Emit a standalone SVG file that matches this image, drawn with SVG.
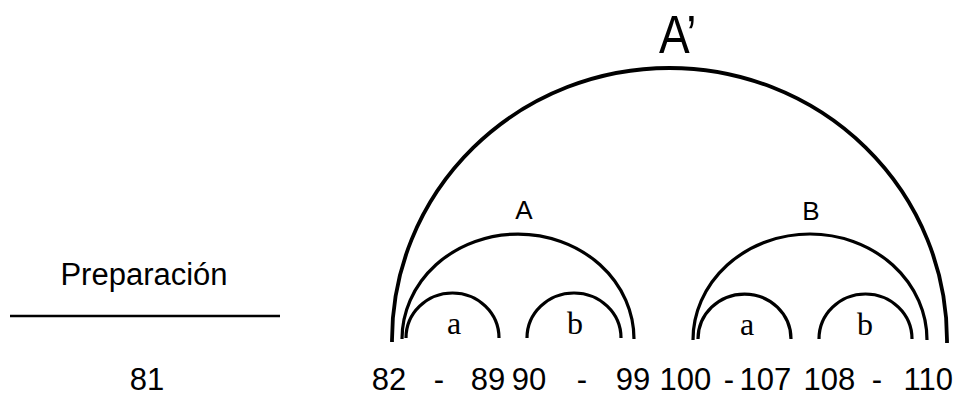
<svg xmlns="http://www.w3.org/2000/svg" width="962" height="396" viewBox="0 0 962 396">
<style>
.arc{fill:none;stroke:#000;stroke-width:3.2}
.big{stroke-width:3.8}
.sans{font-family:"Liberation Sans",Arial,sans-serif;fill:#000}
.serif{font-family:"Liberation Serif","Times New Roman",serif;fill:#000;font-size:32px;text-anchor:middle}
.num{font-size:31px}
</style>
<rect width="962" height="396" fill="#fff"/>
<g id="prep">
<text class="sans" x="144" y="285" font-size="31" text-anchor="middle">Preparación</text>
<line x1="10" y1="316" x2="280" y2="316" stroke="#000" stroke-width="2.5"/>
<text class="sans num" x="147" y="390" text-anchor="middle">81</text>
</g>
<g id="Aprime">
<path class="arc big" d="M392 342 L392 340 A277.5 272 0 0 1 947 340 L947 343"/>
<text class="sans" transform="translate(659,53) scale(1,1.15)" font-size="46">A’</text>
</g>
<g id="A">
<path class="arc" d="M402 339 A116 105 0 0 1 634 339"/>
<text class="sans" x="524" y="219" font-size="26" text-anchor="middle">A</text>
</g>
<g id="B">
<path class="arc" d="M693 340 A117 106 0 0 1 927 340"/>
<text class="sans" x="811" y="220" font-size="26" text-anchor="middle">B</text>
</g>
<g id="Aa">
<path class="arc" d="M406 338 A46.5 45 0 0 1 499 338"/>
<text class="serif" x="454" y="334">a</text>
</g>
<g id="Ab">
<path class="arc" d="M527 338 A47 45 0 0 1 621 338"/>
<text class="serif" x="575" y="334">b</text>
</g>
<g id="Ba">
<path class="arc" d="M698 339 A46.5 45 0 0 1 791 339"/>
<text class="serif" x="747" y="335">a</text>
</g>
<g id="Bb">
<path class="arc" d="M819 339 A46.5 45 0 0 1 912 339"/>
<text class="serif" x="865" y="335">b</text>
</g>
<g id="numbers" class="sans num">
<text x="371.7" y="390">82</text>
<text x="433.7" y="390">-</text>
<text x="470.7" y="390">89</text>
<text x="511.7" y="390">90</text>
<text x="576.7" y="390">-</text>
<text x="615.7" y="390">99</text>
<text x="659.6" y="390">100</text>
<text x="723.7" y="390">-</text>
<text x="739.6" y="390">107</text>
<text x="803.6" y="390">108</text>
<text x="871.7" y="390">-</text>
<text x="903.6" y="390">110</text>
</g>
</svg>
